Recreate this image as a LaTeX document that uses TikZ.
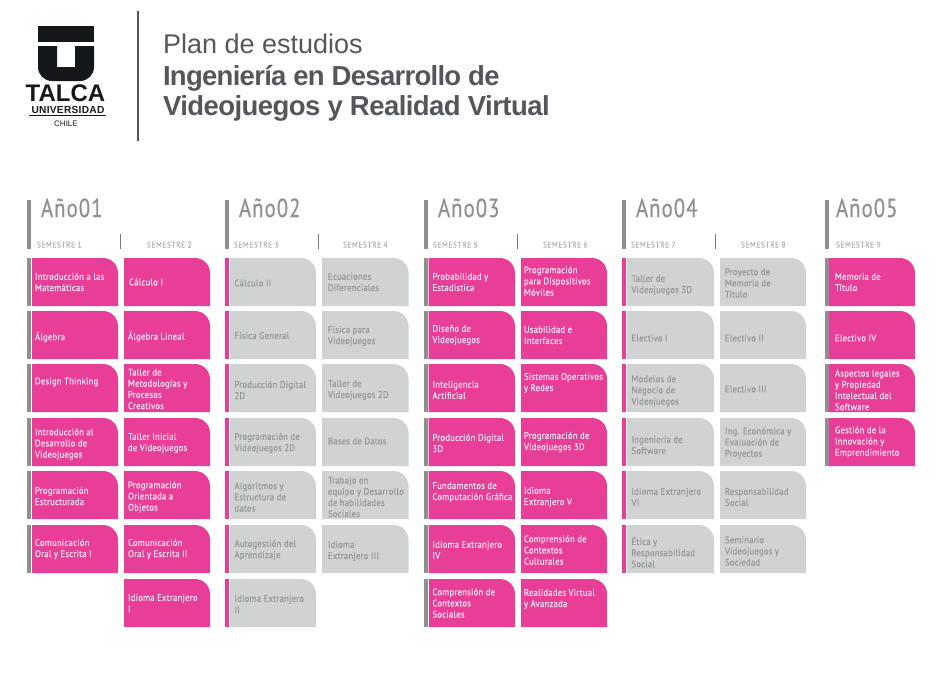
\documentclass[tikz,border=0pt]{standalone}
\usepackage{fontspec}
\setmainfont{Liberation Sans}
\newfontfamily\titlefont[LetterSpace=-2.0]{Liberation Sans}
\newfontfamily\titlefontb[LetterSpace=-2.6]{Liberation Sans}
\newfontfamily\logofont[LetterSpace=2.5]{Liberation Sans}
\newfontfamily\cardfont[LetterSpace=2.5,FakeStretch=0.9,FakeBold=0.35]{PT Sans}
\newfontfamily\semfont[LetterSpace=7,FakeStretch=0.9,FakeBold=0.3]{PT Sans}
\newfontfamily\yearfont[LetterSpace=4.0,FakeStretch=0.8,FakeBold=0.4]{PT Sans}
\definecolor{uPink}{HTML}{E93E97}
\definecolor{uGray}{HTML}{D1D3D2}
\definecolor{uBar}{HTML}{8F8F8F}
\definecolor{uInk}{HTML}{53565A}
\definecolor{uLogo}{HTML}{14181A}
\definecolor{uTxtP}{HTML}{FDE6F2}
\definecolor{uTxtG}{HTML}{959698}
\definecolor{uSem}{HTML}{B0B1B2}
\tikzset{
  every node/.style={inner sep=0pt,outer sep=0pt},
  cardtext/.style={anchor=west,align=left,font=\cardfont\fontsize{9.6}{11.2}\selectfont},
  yeartext/.style={anchor=base west,font=\yearfont\fontsize{26}{26}\selectfont,text=uBar},
  semtext/.style={anchor=base west,font=\semfont\fontsize{8.2}{8}\selectfont,text=uSem},
  titletext/.style={anchor=base west,text=uInk},
}
\newcounter{cardno}
\newcommand{\cardP}[6]{\stepcounter{cardno}%
  \fill[uPink] (#1,{#2+48}) [sharp corners] -- (#1,#2) [rounded corners=15pt] -- ({#1+#3},#2) [sharp corners] -- ({#1+#3},{#2+48}) -- cycle;
  \node[cardtext,text=uTxtP] (card\thecardno) at (#4,#5) {#6};}
\newcommand{\cardG}[6]{\stepcounter{cardno}%
  \fill[uGray] (#1,{#2+48}) [sharp corners] -- (#1,#2) [rounded corners=15pt] -- ({#1+#3},#2) [sharp corners] -- ({#1+#3},{#2+48}) -- cycle;
  \node[cardtext,text=uTxtG] (card\thecardno) at (#4,#5) {#6};}
\newcommand{\tick}[3]{\fill[#3] (#1,#2) rectangle ({#1+4},{#2+48});}
\newcommand{\yearhead}[3]{%
  \fill[uBar] (#1,200) rectangle ({#1+4},249);
  \node[yeartext] (year#3) at (#2,217) {Año#3};
}
\newcommand{\semhead}[2]{\node[semtext] (sem#2) at (#1,247.5) {SEMESTRE #2};}
\newcommand{\semdiv}[1]{\fill[uBar!120] (#1,234) rectangle ({#1+1},249);}
\begin{document}
\begin{tikzpicture}[x=1pt,y=-1pt]
\useasboundingbox (0,0) rectangle (945,672);
% logo
\fill[uLogo] (38,26) rectangle (94,42);
\fill[uLogo] (57,46) [sharp corners] -- (38,46) [rounded corners=14pt] -- (38,81) -- (94,81) [sharp corners] -- (94,46) -- (75,46) -- (75,67) -- (57,67) -- cycle;
\node[anchor=base,font=\fontsize{24}{24}\bfseries,text=uLogo] (talca) at (65.5,101.5) {TALCA};
\node[anchor=base,font=\logofont\fontsize{10.2}{10}\bfseries,text=uLogo] (univ) at (68,113.5) {UNIVERSIDAD};
\fill[uLogo] (29,115) rectangle (106,116);
\node[anchor=base,font=\fontsize{8}{8}\selectfont,text=uLogo] (chile) at (66,126) {CHILE};
\fill[uInk] (137,11) rectangle (139,141);
% title
\node[titletext,font=\fontsize{27}{26}\selectfont] (plan) at (163,53) {Plan de estudios};
\node[titletext,font=\titlefontb\bfseries\fontsize{27.5}{27}\selectfont] (ing) at (163,85) {Ingeniería en Desarrollo de};
\node[titletext,font=\titlefont\bfseries\fontsize{27.5}{27}\selectfont] (vid) at (163,115) {Videojuegos y Realidad Virtual};
% headers
\yearhead{27}{41}{01}
\yearhead{225}{239}{02}
\yearhead{424}{438}{03}
\yearhead{622}{636}{04}
\yearhead{825}{836}{05}
\semdiv{120}\semdiv{318}\semdiv{516.5}\semdiv{714.5}
\semhead{37}{1}\semhead{147}{2}\semhead{234}{3}\semhead{343}{4}\semhead{433}{5}\semhead{543}{6}\semhead{631}{7}\semhead{741}{8}\semhead{836}{9}
% ticks
\foreach \y in {258,311,364,418,471,525} {\tick{27}{\y}{uBar}}
\foreach \y in {258,311,364,418,471,525,579} {\tick{225}{\y}{uPink}}
\foreach \y in {258,311,364,418,471,525,579} {\tick{424}{\y}{uBar}}
\foreach \y in {258,311,364,418,471,525} {\tick{622}{\y}{uPink}}
\foreach \y in {258,311,364,418} {\tick{825}{\y}{uBar}}
% year 1
\cardP{32}{258}{86}{35}{282}{Introducción a las\\Matemáticas}
\cardP{32}{311}{86}{35}{337}{Álgebra}
\cardP{32}{364}{86}{35}{382}{Design Thinking}
\cardP{32}{418}{86}{35}{444}{Introducción al\\Desarrollo de\\Videojuegos}
\cardP{32}{471}{86}{35}{496}{Programación\\Estructurada}
\cardP{32}{525}{86}{35}{549}{Comunicación\\Oral y Escrita I}
\cardP{124}{258}{86}{129}{282}{Cálculo I}
\cardP{124}{311}{86}{128}{336.5}{Álgebra Lineal}
\cardP{124}{364}{86}{128}{389}{Taller de\\Metodologías y\\Procesos\\Creativos}
\cardP{124}{418}{86}{128}{443}{Taller Inicial\\de Videojuegos}
\cardP{124}{471}{86}{128}{497}{Programación\\Orientada a\\Objetos}
\cardP{124}{525}{86}{128}{549}{Comunicación\\Oral y Escrita II}
\cardP{124}{579}{86}{128}{603}{Idioma Extranjero\\I}
% year 2
\cardG{230}{258}{86}{234.5}{283}{Cálculo II}
\cardG{230}{311}{86}{234.5}{335.5}{Física General}
\cardG{230}{364}{86}{234.5}{390}{Producción Digital\\2D}
\cardG{230}{418}{86}{234.5}{443}{Programación de\\Videojuegos 2D}
\cardG{230}{471}{86}{234.5}{497}{Algoritmos y\\Estructura de\\datos}
\cardG{230}{525}{86}{234.5}{550}{Autogestión del\\Aprendizaje}
\cardG{230}{579}{86}{234.5}{604}{Idioma Extranjero\\II}
\cardG{322}{258}{86.5}{328}{282}{Ecuaciones\\Diferenciales}
\cardG{322}{311}{86.5}{328}{336}{Física para\\Videojuegos}
\cardG{322}{364}{86.5}{328}{390}{Taller de\\Videojuegos 2D}
\cardG{322}{418}{86.5}{328}{441}{Bases de Datos}
\cardG{322}{471}{86.5}{328}{497}{Trabajo en\\equipo y Desarrollo\\de habilidades\\Sociales}
\cardG{322}{525}{86.5}{328}{551}{Idioma\\Extranjero III}
% year 3
\cardP{428.5}{258}{86.5}{432.5}{282}{Probabilidad y\\Estadística}
\cardP{428.5}{311}{86.5}{432.5}{335}{Diseño de\\Videojuegos}
\cardP{428.5}{364}{86.5}{432.5}{390}{Inteligencia\\Artificial}
\cardP{428.5}{418}{86.5}{432.5}{443}{Producción Digital\\3D}
\cardP{428.5}{471}{86.5}{432.5}{492}{Fundamentos de\\Computación Gráfica}
\cardP{428.5}{525}{86.5}{432.5}{550}{Idioma Extranjero\\IV}
\cardP{429}{579}{86}{432.5}{603}{Comprensión de\\Contextos\\Sociales}
\cardP{521}{258}{86}{524}{281}{Programación\\para Dispositivos\\Móviles}
\cardP{521}{311}{86}{524}{335}{Usabilidad e\\Interfaces}
\cardP{521}{364}{86}{524}{383}{Sistemas Operativos\\y Redes}
\cardP{521}{418}{86}{524}{442}{Programación de\\Videojuegos 3D}
\cardP{521}{471}{86}{524}{497}{Idioma\\Extranjero V}
\cardP{521}{525}{86}{524}{550}{Comprensión de\\Contextos\\Culturales}
\cardP{521}{579}{86}{524}{599}{Realidades Virtual\\y Avanzada}
% year 4
\cardG{627}{258}{87}{631.5}{285}{Taller de\\Videojuegos 3D}
\cardG{627}{311}{87}{631.5}{338}{Electivo I}
\cardG{627}{364}{87}{631.5}{391}{Modelos de\\Negocio de\\Videojuegos}
\cardG{627}{418}{87}{631.5}{445}{Ingeniería de\\Software}
\cardG{627}{471}{87}{631.5}{497}{Idioma Extranjero\\VI}
\cardG{627}{525}{87}{631.5}{552}{Ética y\\Responsabilidad\\Social}
\cardG{720}{258}{86}{725}{283}{Proyecto de\\Memoria de\\Título}
\cardG{720}{311}{86}{725}{338}{Electivo II}
\cardG{720}{364}{86}{725}{389}{Electivo III}
\cardG{720}{418}{86}{725}{443}{Ing. Económica y\\Evaluación de\\Proyectos}
\cardG{720}{471}{86}{725}{497}{Responsabilidad\\Social}
\cardG{720}{525}{86}{725}{551}{Seminario\\Videojuegos y\\Sociedad}
% year 5
\cardP{829}{258}{86}{835}{282}{Memoria de\\Título}
\cardP{829}{311}{86}{835}{338}{Electivo IV}
\cardP{829}{364}{86}{835}{390}{Aspectos legales\\y Propiedad\\Intelectual del\\Software}
\cardP{829}{418}{86}{835}{442}{Gestión de la\\Innovación y\\Emprendimiento}
\end{tikzpicture}
\end{document}
